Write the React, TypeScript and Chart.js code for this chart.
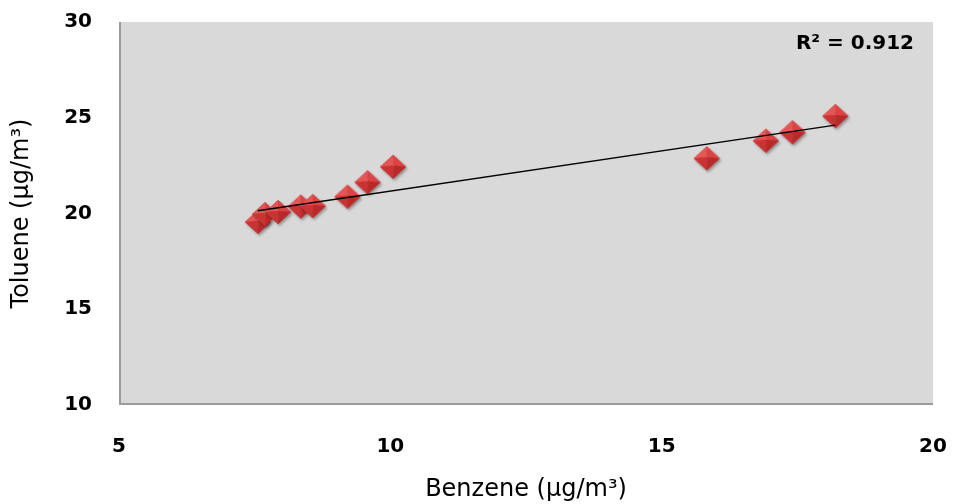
import React, { useEffect, useRef } from 'react';
import { Chart, registerables } from 'chart.js';

Chart.register(...registerables);

// ---- data ----
const benzene = [7.56, 7.69, 7.93, 8.35, 8.57, 9.21, 9.58, 10.05, 15.83, 16.92, 17.41, 18.2];
const toluene = [19.56, 19.97, 20.08, 20.36, 20.39, 20.88, 21.63, 22.44, 22.88, 23.8, 24.24, 25.09];
const xTickValues = [5, 10, 15, 20];
const yTickValues = [10, 15, 20, 25, 30];
const r2Label = 'R² = 0.912';
const xTitle = 'Benzene (μg/m³)';
const yTitle = 'Toluene (μg/m³)';

function regression(xs: number[], ys: number[]) {
  const n = xs.length;
  const mx = xs.reduce((a, b) => a + b, 0) / n;
  const my = ys.reduce((a, b) => a + b, 0) / n;
  let sxy = 0;
  let sxx = 0;
  for (let i = 0; i < n; i++) {
    sxy += (xs[i] - mx) * (ys[i] - my);
    sxx += (xs[i] - mx) * (xs[i] - mx);
  }
  const slope = sxy / sxx;
  return { slope, intercept: my - slope * mx };
}

function makeDiamond(): HTMLCanvasElement {
  const c = document.createElement('canvas');
  const W = 34;
  const H = 32;
  c.width = W;
  c.height = H;
  const ctx = c.getContext('2d')!;
  const cx = W / 2;
  const cy = H / 2;
  const hw = 13;
  const hh = 12;
  ctx.save();
  ctx.shadowColor = 'rgba(0,0,0,0.35)';
  ctx.shadowBlur = 3;
  ctx.shadowOffsetX = 1.5;
  ctx.shadowOffsetY = 2;
  ctx.beginPath();
  ctx.moveTo(cx, cy - hh);
  ctx.lineTo(cx + hw, cy);
  ctx.lineTo(cx, cy + hh);
  ctx.lineTo(cx - hw, cy);
  ctx.closePath();
  ctx.fillStyle = '#cc3535';
  ctx.fill();
  ctx.restore();
  const ix = cx + 0.5;
  const iy = cy - 1;
  const facet = (ax: number, ay: number, bx: number, by: number, color: string) => {
    ctx.beginPath();
    ctx.moveTo(ix, iy);
    ctx.lineTo(ax, ay);
    ctx.lineTo(bx, by);
    ctx.closePath();
    ctx.fillStyle = color;
    ctx.fill();
  };
  facet(cx - hw, cy, cx, cy - hh, '#e45555'); // top-left
  facet(cx, cy - hh, cx + hw, cy, '#da4444'); // top-right
  facet(cx + hw, cy, cx, cy + hh, '#b82a2a'); // bottom-right
  facet(cx, cy + hh, cx - hw, cy, '#c83434'); // bottom-left
  return c;
}

const plotBg = {
  id: 'plotBg',
  beforeDatasetsDraw(chart: any) {
    const { ctx, chartArea } = chart;
    const { left, top, right, bottom } = chartArea;
    ctx.save();
    ctx.fillStyle = '#d9d9d9';
    ctx.fillRect(left, top, right - left, bottom - top);
    ctx.strokeStyle = '#9b9b9b';
    ctx.lineWidth = 2;
    ctx.beginPath();
    ctx.moveTo(left + 1, top);
    ctx.lineTo(left + 1, bottom - 1);
    ctx.lineTo(right, bottom - 1);
    ctx.stroke();
    ctx.restore();
  },
  afterDraw(chart: any) {
    const { ctx, chartArea } = chart;
    ctx.save();
    ctx.font = 'bold 20px "DejaVu Sans"';
    ctx.fillStyle = '#000';
    ctx.textAlign = 'right';
    ctx.textBaseline = 'middle';
    ctx.fillText(r2Label, chartArea.right - 19, chartArea.top + 22);
    ctx.restore();
  },
};

export default function App() {
  const ref = useRef<HTMLCanvasElement | null>(null);

  useEffect(() => {
    document.body.style.margin = '0';
    const canvas = ref.current!;
    const { slope, intercept } = regression(benzene, toluene);
    const xmin = Math.min(...benzene);
    const xmax = Math.max(...benzene);
    const trend = [
      { x: xmin, y: intercept + slope * xmin },
      { x: xmax, y: intercept + slope * xmax },
    ];
    const pts = benzene.map((x, i) => ({ x, y: toluene[i] }));
    const diamond = makeDiamond();

    const chart = new Chart(canvas, {
      type: 'scatter',
      data: {
        datasets: [
          {
            type: 'line',
            label: 'trend',
            data: trend,
            borderColor: '#000',
            borderWidth: 1.4,
            pointRadius: 0,
            fill: false,
            order: 0,
          } as any,
          {
            label: 'Toluene',
            data: pts,
            pointStyle: diamond as any,
            pointRadius: 13,
            order: 1,
          },
        ],
      },
      options: {
        animation: false,
        responsive: false,
        layout: { padding: { top: 22, right: 20, left: 0, bottom: 0 } },
        plugins: { legend: { display: false }, tooltip: { enabled: false } },
        scales: {
          x: {
            type: 'linear',
            min: 5,
            max: 20,
            afterBuildTicks: (s: any) => {
              s.ticks = xTickValues.map((v) => ({ value: v }));
            },
            afterFit: (s: any) => {
              s.height = 99;
              s.paddingLeft = 0;
              s.paddingRight = 0;
            },
            grid: { display: false, drawTicks: false },
            border: { display: false },
            ticks: {
              padding: 30,
              color: '#000',
              font: { family: '"DejaVu Sans"', size: 20, weight: 'bold' },
            },
            title: {
              display: true,
              text: xTitle,
              color: '#000',
              font: { family: '"DejaVu Sans"', size: 24 },
              padding: { top: 0, bottom: 0 },
            },
          },
          y: {
            type: 'linear',
            min: 10,
            max: 30,
            afterBuildTicks: (s: any) => {
              s.ticks = yTickValues.map((v) => ({ value: v }));
            },
            afterFit: (s: any) => {
              s.width = 119;
              s.paddingTop = 0;
              s.paddingBottom = 0;
            },
            grid: { display: false, drawTicks: false },
            border: { display: false },
            ticks: {
              padding: 27,
              color: '#000',
              font: { family: '"DejaVu Sans"', size: 20, weight: 'bold' },
            },
            title: {
              display: true,
              text: yTitle,
              color: '#000',
              font: { family: '"DejaVu Sans"', size: 24 },
              padding: { top: 7, bottom: 0 },
            },
          },
        },
      },
      plugins: [plotBg],
    });
    return () => chart.destroy();
  }, []);

  return <canvas ref={ref} width={953} height={504} style={{ display: 'block' }} />;
}
